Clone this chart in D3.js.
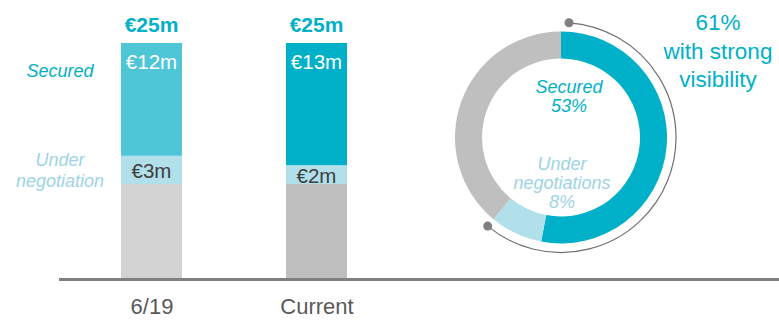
<!DOCTYPE html>
<html>
<head>
<meta charset="utf-8">
<script src="https://cdn.jsdelivr.net/npm/d3@7/dist/d3.min.js"></script>
<style>
  html, body { margin: 0; padding: 0; background: #fff; }
  svg { display: block; font-family: "Liberation Sans", Arial, sans-serif; }
</style>
</head>
<body>
<svg id="chart" width="779" height="320"></svg>
<script>
// Pipeline by period (€m)
const categories = ["6/19", "Current"];
const secured = [12, 13];
const underNegotiation = [3, 2];
const remaining = [10, 10];

// Current pipeline split (%)
const donutLabels = ["Secured", "Under negotiations", "Other"];
const donutShares = [53, 8, 39];
const strongVisibilityShare = 61;

const W = 779, H = 320;
const svg = d3.select("#chart");

const C = {
  securedOld: "#4fc6d7",
  securedNow: "#00afc8",
  under: "#b1dfea",
  greyOld: "#d3d3d3",
  greyNow: "#bfbfbf",
  teal: "#00afc8",
  underText: "#9dd3e5",
  dark: "#404040",
  axisText: "#595959",
  axis: "#808080"
};

// ---- stacked bars ----
const barW = 61;
const x = d3.scalePoint().domain(categories).range([151.5, 316.5]);
const y = d3.scaleLinear().domain([0, 25]).range([278, 43]);

const rows = categories.map((c, i) => ({
  cat: c,
  remaining: remaining[i],
  under: underNegotiation[i],
  secured: secured[i]
}));
const stack = d3.stack().keys(["remaining", "under", "secured"]);
const series = stack(rows);

const fills = {
  remaining: [C.greyOld, C.greyNow],
  under: [C.under, C.under],
  secured: [C.securedOld, C.securedNow]
};

const gBars = svg.append("g");
series.forEach(s => {
  gBars.selectAll(null)
    .data(s)
    .join("rect")
    .attr("x", d => x(d.data.cat) - barW / 2)
    .attr("y", d => y(d[1]))
    .attr("width", barW)
    .attr("height", d => y(d[0]) - y(d[1]))
    .attr("fill", (d, i) => fills[s.key][i]);
});

// segment value labels
const secSeries = series.find(s => s.key === "secured");
gBars.selectAll(null)
  .data(secSeries)
  .join("text")
  .attr("x", d => x(d.data.cat))
  .attr("y", d => y(d[1]) + 26)
  .attr("text-anchor", "middle")
  .attr("font-size", 20.5)
  .attr("fill", "#fff")
  .text(d => `€${d.data.secured}m`);

const underSeries = series.find(s => s.key === "under");
gBars.selectAll(null)
  .data(underSeries)
  .join("text")
  .attr("x", d => x(d.data.cat))
  .attr("y", d => (y(d[0]) + y(d[1])) / 2 + 8)
  .attr("text-anchor", "middle")
  .attr("font-size", 20.5)
  .attr("fill", C.dark)
  .text(d => `€${d.data.under}m`);

// totals above bars
gBars.selectAll(null)
  .data(rows)
  .join("text")
  .attr("x", d => x(d.cat))
  .attr("y", d => y(d.remaining + d.under + d.secured) - 11)
  .attr("text-anchor", "middle")
  .attr("font-size", 21)
  .attr("font-weight", "bold")
  .attr("fill", C.teal)
  .text(d => `€${d.remaining + d.under + d.secured}m`);

// baseline
svg.append("line")
  .attr("x1", 59).attr("x2", W)
  .attr("y1", 279.5).attr("y2", 279.5)
  .attr("stroke", C.axis)
  .attr("stroke-width", 3);

// category labels
const xAxis = svg.append("g")
  .attr("transform", "translate(0,281)")
  .call(d3.axisBottom(x).tickSize(0).tickPadding(17));
xAxis.select(".domain").remove();
xAxis.selectAll("text")
  .attr("font-family", "Liberation Sans, Arial, sans-serif")
  .attr("font-size", 22)
  .attr("fill", C.axisText);

// series captions on the left
svg.append("text")
  .attr("x", 60).attr("y", 77)
  .attr("text-anchor", "middle")
  .attr("font-size", 18).attr("font-style", "italic")
  .attr("fill", C.teal)
  .text("Secured");
const uLab = svg.append("text")
  .attr("text-anchor", "middle")
  .attr("font-size", 18).attr("font-style", "italic")
  .attr("fill", C.underText);
uLab.append("tspan").attr("x", 60).attr("y", 166).text("Under");
uLab.append("tspan").attr("x", 60).attr("y", 187).text("negotiation");

// ---- donut ----
const cx = 561, cy = 137.5;
const gD = svg.append("g").attr("transform", `translate(${cx},${cy})`);
const pie = d3.pie().sort(null).value(d => d.v);
const arcs = pie(donutLabels.map((l, i) => ({ l, v: donutShares[i] })));
const arc = d3.arc().innerRadius(79).outerRadius(106);
const donutFill = [C.securedNow, C.under, C.greyNow];
gD.selectAll("path.slice")
  .data(arcs)
  .join("path")
  .attr("class", "slice")
  .attr("d", arc)
  .attr("fill", (d, i) => donutFill[i]);

// bracket arc showing the strong-visibility share
const rB = 115;
const a0 = 4 * Math.PI / 180;
const a1 = 2 * Math.PI * strongVisibilityShare / 100;
const p = d3.path();
p.arc(0, 0, rB, a0 - Math.PI / 2, a1 - Math.PI / 2, false);
gD.append("path")
  .attr("d", p.toString())
  .attr("fill", "none")
  .attr("stroke", "#707070")
  .attr("stroke-width", 1.2);
[a0, a1].forEach(a => {
  gD.append("circle")
    .attr("cx", rB * Math.sin(a))
    .attr("cy", -rB * Math.cos(a))
    .attr("r", 4.5)
    .attr("fill", C.axis);
});

// donut captions
const sLab = svg.append("text")
  .attr("text-anchor", "middle")
  .attr("font-size", 18).attr("font-style", "italic")
  .attr("fill", C.teal);
sLab.append("tspan").attr("x", 569).attr("y", 93).text(donutLabels[0]);
sLab.append("tspan").attr("x", 569).attr("y", 112).text(`${donutShares[0]}%`);

const nLab = svg.append("text")
  .attr("text-anchor", "middle")
  .attr("font-size", 18).attr("font-style", "italic")
  .attr("fill", C.underText);
nLab.append("tspan").attr("x", 562).attr("y", 170).text("Under");
nLab.append("tspan").attr("x", 562).attr("y", 189).text("negotiations");
nLab.append("tspan").attr("x", 562).attr("y", 208).text(`${donutShares[1]}%`);

// headline on the right
const hLab = svg.append("text")
  .attr("text-anchor", "middle")
  .attr("font-size", 22.5)
  .attr("fill", C.teal);
hLab.append("tspan").attr("x", 718).attr("y", 30).text(`${strongVisibilityShare}%`);
hLab.append("tspan").attr("x", 718).attr("y", 59).text("with strong");
hLab.append("tspan").attr("x", 718).attr("y", 87).text("visibility");
</script>
</body>
</html>
